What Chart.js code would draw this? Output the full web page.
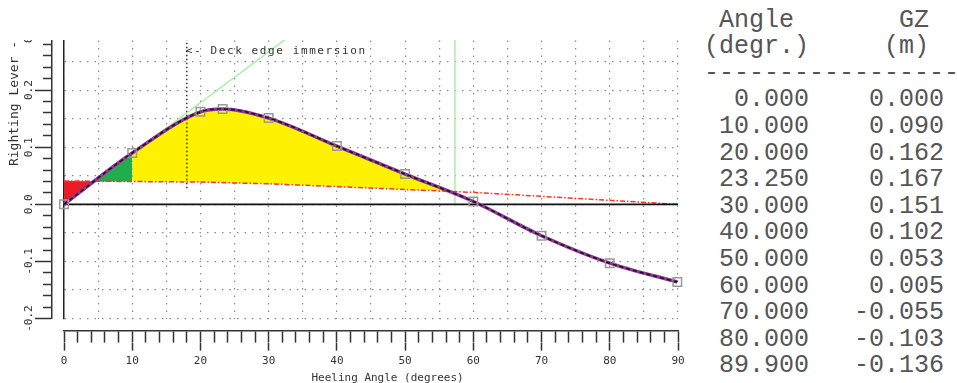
<!DOCTYPE html>
<html>
<head>
<meta charset="utf-8">
<script src="https://cdn.jsdelivr.net/npm/chart.js@4.4.1/dist/chart.umd.min.js"></script>
<style>
  html, body { margin: 0; padding: 0; background: #fff; }
  body { width: 957px; height: 383px; position: relative; overflow: hidden; }
  /* the plot in the reference is cut off at the top, so crop it the same way */
  #plotCrop { position: absolute; left: 0; top: 40px; width: 690px; height: 343px; overflow: hidden; }
  #chart { position: absolute; left: 0; top: -15px; }
  #table { position: absolute; left: 704px; top: 7.7px; margin: 0;
           font: 25px/26.6px "Liberation Mono", monospace; color: #555; white-space: pre; }
</style>
</head>
<body>
<div id="plotCrop"><canvas id="chart" width="690" height="360"></canvas></div>
<pre id="table"></pre>
<script>
// GZ curve (also printed in the table)
const angles = [0, 10, 20, 23.25, 30, 40, 50, 60, 70, 80, 89.9];
const gz     = [0.000, 0.090, 0.162, 0.167, 0.151, 0.102, 0.053, 0.005, -0.055, -0.103, -0.136];

// heeling arm (red dash-dot)
const heelAngles = [0, 10, 20, 30, 40, 50, 60, 70, 80, 90];
const heelArm    = [0.041, 0.040, 0.039, 0.036, 0.031, 0.026, 0.021, 0.014, 0.007, 0.000];

// initial GM line (green), drawn at 1 rad
const gmAngle = 57.3;
const gmValue = 0.51;

// deck edge immersion marker
const deckEdgeAngle = 18.0;
const deckEdgeFrom  = 0.028;

const xMin = 0, xMax = 90;
const yMin = -0.2, yMax = 0.3;

// ── table ───────────────────────────────────────────────
const rows = [" Angle       GZ", "(degr.)     (m)", "-".repeat(18)];
angles.forEach((a, i) => {
  rows.push(a.toFixed(3).padStart(7) + gz[i].toFixed(3).padStart(9));
});
document.getElementById("table").textContent = rows.join("\n");

// ── chart ───────────────────────────────────────────────
const gzPts   = angles.map((a, i) => ({ x: a, y: gz[i] }));
const heelPts = heelAngles.map((a, i) => ({ x: a, y: heelArm[i] }));
const heelA   = heelPts.filter(p => p.x <= 10);   // red / green part
const heelB   = heelPts.filter(p => p.x >= 10);   // yellow part

Chart.defaults.font.family = '"DejaVu Sans Mono", monospace';
Chart.defaults.font.size = 11;
Chart.defaults.color = "#333";

const gridDash = [1.5, 6];

const deckLabel = {
  id: "deckLabel",
  afterDatasetsDraw(chart) {
    const { ctx, scales: { x, y } } = chart;
    ctx.save();
    ctx.font = '11px "DejaVu Sans Mono"';
    ctx.letterSpacing = "1.6px";
    ctx.fillStyle = "#333";
    ctx.textBaseline = "middle";
    ctx.fillText("<- Deck edge immersion", x.getPixelForValue(deckEdgeAngle) - 1, y.getPixelForValue(0.269));
    ctx.restore();
  }
};

const hiddenLine = { borderColor: "rgba(0,0,0,0)", borderWidth: 0, pointRadius: 0 };

new Chart(document.getElementById("chart"), {
  type: "line",
  data: {
    datasets: [
      { // 0 black dashes on top of the purple curve
        data: gzPts, borderColor: "#1a1020", borderWidth: 1.6, borderDash: [4, 3],
        cubicInterpolationMode: "monotone", pointRadius: 0, fill: false,
      },
      { // 1 purple curve + square markers
        data: gzPts, borderColor: "#8e3a94", borderWidth: 3.5,
        cubicInterpolationMode: "monotone", fill: false, clip: 8,
        pointStyle: "rect", pointRadius: 6, pointBorderWidth: 1.5,
        pointBorderColor: "#999", pointBackgroundColor: "rgba(0,0,0,0)",
      },
      { // 2 zero line
        data: [{ x: xMin, y: 0 }, { x: xMax, y: 0 }], borderColor: "#111", borderWidth: 1.6,
        pointRadius: 0, fill: false,
      },
      { // 3 heeling arm
        data: heelPts, borderColor: "#ff3030", borderWidth: 1.5, borderDash: [5, 2, 1.5, 2],
        pointRadius: 0, fill: false,
      },
      { // 4 GM tangent
        data: [{ x: 0, y: 0 }, { x: gmAngle, y: gmValue }], borderColor: "#a8f0a8", borderWidth: 1.5,
        pointRadius: 0, fill: false,
      },
      { // 5 vertical at 1 rad
        data: [{ x: gmAngle, y: 0 }, { x: gmAngle, y: gmValue }], borderColor: "#a8f0a8", borderWidth: 1.5,
        pointRadius: 0, fill: false,
      },
      { // 6 deck edge immersion
        data: [{ x: deckEdgeAngle, y: deckEdgeFrom }, { x: deckEdgeAngle, y: yMax }],
        borderColor: "#333", borderWidth: 1.5, borderDash: [1.5, 2.5], pointRadius: 0, fill: false,
      },
      { // 7 red / green area
        data: gzPts, ...hiddenLine, cubicInterpolationMode: "monotone",
        fill: { target: 9, above: "#1fae4b", below: "#ec1c24" },
      },
      { // 8 yellow area
        data: gzPts, ...hiddenLine, cubicInterpolationMode: "monotone",
        fill: { target: 10, above: "#fff200", below: "rgba(0,0,0,0)" },
      },
      { data: heelA, ...hiddenLine, fill: false }, // 9
      { data: heelB, ...hiddenLine, fill: false }, // 10
    ],
  },
  options: {
    responsive: false,
    animation: false,
    events: [],
    layout: { padding: { left: 7.2, top: 8, right: 12, bottom: 0 } },
    plugins: { legend: { display: false }, tooltip: { enabled: false } },
    scales: {
      x: {
        type: "linear", position: "bottom", weight: 0, min: xMin, max: xMax,
        ticks: { display: false, stepSize: 5 },
        grid: { color: "#8a8a8a", lineWidth: 1.2, drawTicks: true, tickLength: 12, tickColor: "rgba(0,0,0,0)" },
        border: { display: false, dash: gridDash },
      },
      xr1: {
        type: "linear", position: "bottom", weight: 1, min: xMin, max: xMax,
        ticks: { display: false, stepSize: 2 },
        grid: { drawOnChartArea: false, tickLength: 12, tickColor: "#333", tickWidth: 1.5 },
        border: { display: true, color: "#333", width: 1.5 },
      },
      xr2: {
        type: "linear", position: "bottom", weight: 2, min: xMin, max: xMax,
        ticks: { stepSize: 10, padding: 4, maxRotation: 0 },
        grid: { drawOnChartArea: false, tickLength: 8, tickColor: "#333", tickWidth: 1.5 },
        border: { display: false },
        title: { display: true, text: "     Heeling Angle (degrees)", padding: { top: 0, bottom: 0 } },
      },
      y: {
        type: "linear", position: "left", weight: 0, min: yMin, max: yMax,
        ticks: { display: false, stepSize: 0.05 },
        grid: { color: "#8a8a8a", lineWidth: 1.2, drawTicks: true, tickLength: 12, tickColor: "rgba(0,0,0,0)" },
        border: { display: true, color: "#222", width: 1.5, dash: gridDash },
      },
      yr1: {
        type: "linear", position: "left", weight: 1, min: yMin, max: yMax,
        ticks: { display: false, stepSize: 0.02 },
        grid: { drawOnChartArea: false, tickLength: 9, tickColor: "#333", tickWidth: 1.5 },
        border: { display: true, color: "#333", width: 1.5 },
      },
      yr2: {
        type: "linear", position: "left", weight: 2, min: yMin, max: yMax,
        ticks: {
          stepSize: 0.1, padding: -7, minRotation: 90, maxRotation: 90, crossAlign: "center",
          callback: v => v.toFixed(1),
        },
        grid: { drawOnChartArea: false, tickLength: 8, tickColor: "#333", tickWidth: 1.5 },
        border: { display: false },
        title: {
          display: true, text: "Righting Lever - ", align: "end",
          font: { size: 13 }, padding: { top: 0, bottom: 13 },
        },
      },
    },
  },
  plugins: [deckLabel],
});
</script>
</body>
</html>
